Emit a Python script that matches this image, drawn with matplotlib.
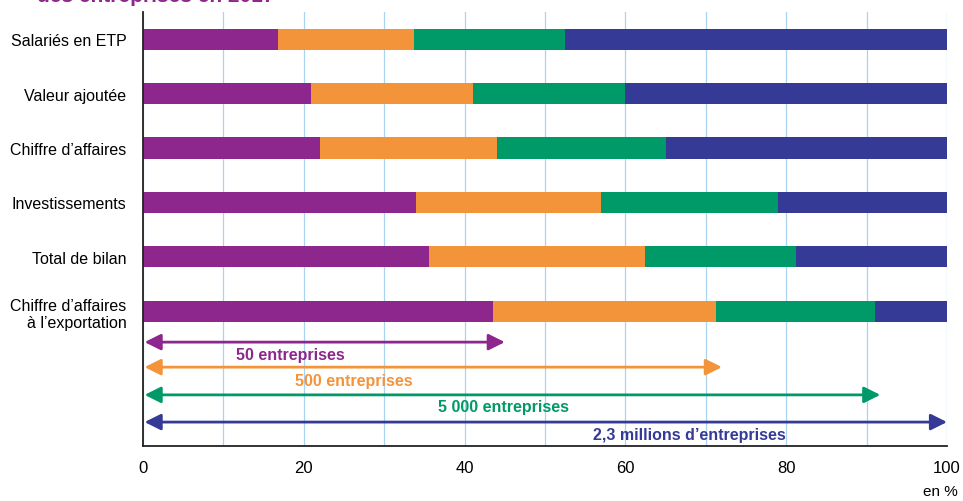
import matplotlib
matplotlib.use("Agg")
import matplotlib.pyplot as plt
import numpy as np

# cumulative shares (%): 50, 500, 5 000 firms, then all
categories = ["Salariés en ETP", "Valeur ajoutée", "Chiffre d\u2019affaires",
              "Investissements", "Total de bilan",
              "Chiffre d\u2019affaires\nà l\u2019exportation"]
cum_50 = [16.8, 20.9, 22.0, 34.0, 35.6, 43.5]
cum_500 = [33.7, 41.0, 44.0, 57.0, 62.4, 71.3]
cum_5000 = [52.5, 60.0, 65.0, 79.0, 81.2, 91.1]
cum_all = [100, 100, 100, 100, 100, 100]

groups = ["50 entreprises", "500 entreprises", "5 000 entreprises",
          "2,3 millions d\u2019entreprises"]
arrow_ends = [45.0, 72.0, 91.7, 100.0]
label_x = [18.3, 26.2, 44.9, 68.0]
colors = ["#8E278D", "#F4943A", "#009A68", "#353A96"]

FONT = ["Liberation Sans Narrow", "Liberation Sans", "DejaVu Sans"]
plt.rcParams["font.family"] = FONT

fig = plt.figure(figsize=(9.63, 5.02), dpi=100)
ax = fig.add_axes([143 / 963, 55 / 502, 804 / 963, 434 / 502])

y = np.arange(len(categories))
series = [cum_50, cum_500, cum_5000, cum_all]
left = np.zeros(len(categories))
for vals, c in zip(series, colors):
    vals = np.array(vals, dtype=float)
    ax.barh(y, vals - left, left=left, height=0.39, color=c, zorder=3)
    left = vals

# arrows for each group of firms
arrow_y = [5.57, 6.03, 6.54, 7.04]
text_y = [5.79, 6.27, 6.76, 7.26]
for g, end, lx, ay, ty, c in zip(groups, arrow_ends, label_x, arrow_y, text_y, colors):
    ax.annotate("", xy=(end, ay), xytext=(0.2, ay),
                arrowprops=dict(arrowstyle="<|-|>,head_length=0.7,head_width=0.35",
                                color=c, lw=2, mutation_scale=14,
                                shrinkA=0, shrinkB=0),
                zorder=4)
    ax.text(lx, ty, g, color=c, fontsize=11.5, fontweight="bold",
            ha="center", va="center", zorder=5)

ax.set_xlim(0, 100)
ax.set_ylim(7.48, -0.5)
ax.set_xticks(np.arange(0, 101, 20))
ax.set_xticks(np.arange(0, 101, 10), minor=True)
ax.tick_params(axis="x", which="both", length=0, labelsize=12, pad=10)
ax.tick_params(axis="y", length=0, labelsize=11.5, pad=12)
ax.set_yticks(y)
ax.set_yticklabels(categories, ha="right")
ax.grid(axis="x", which="both", color="#A9D3F0", lw=0.9, zorder=0)
for s in ["top", "right"]:
    ax.spines[s].set_visible(False)
for s in ["left", "bottom"]:
    ax.spines[s].set_linewidth(1.3)
    ax.spines[s].set_color("#222222")
    ax.spines[s].set_zorder(6)

fig.text(958 / 963, 10 / 502, "en %", ha="right", va="center", fontsize=11)
# title cut off at the top of the picture, as in the source
fig.text(37 / 963, 1 - 2.5 / 502, "des entreprises en 2017", color="#8E278D",
         fontsize=15, fontweight="bold", ha="left", va="baseline")

fig.savefig("out.png", dpi=100)
